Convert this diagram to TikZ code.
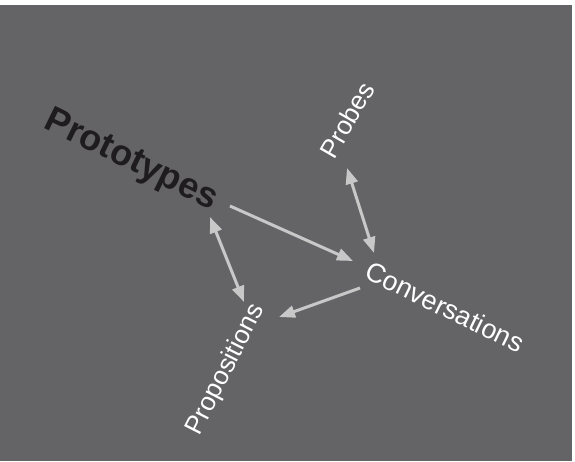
\documentclass[tikz,border=0pt]{standalone}
\usepackage{fontspec}
\setmainfont{Liberation Sans}
\usetikzlibrary{arrows.meta}
\definecolor{fondo}{RGB}{100,100,102}
\definecolor{flecha}{RGB}{200,200,200}
\definecolor{tinta}{RGB}{30,28,30}
\tikzset{>={Triangle[length=16pt,width=12pt]}, word/.style={text=white, font=\fontsize{26}{30}\selectfont, inner sep=0pt}, link/.style={flecha, line width=3pt}}

\begin{document}
\begin{tikzpicture}[x=1pt,y=-1pt]
	\useasboundingbox (0,0) rectangle (575,461);
	\fill[white] (0,0) rectangle (575,461);
	\fill[fondo] (0,5) rectangle (572,461);

	\node[word, text=tinta, font=\bfseries\fontsize{36}{40}\selectfont, rotate=-26] (proto) at (131,161) {Prototypes};
	\node[word, font=\fontsize{27}{30}\selectfont, rotate=-26] (conv) at (445,307) {Conversations};
	\node[word, rotate=60] (probes) at (347,120) {Probes};
	\node[word, rotate=63] (props) at (226,370) {Propositions};

	\coordinate (proto-a) at (230,206);
	\coordinate (proto-b) at (210,217);
	\coordinate (conv-a) at (353,261);
	\coordinate (conv-b) at (360,288);
	\coordinate (conv-c) at (374,253);
	\coordinate (probes-a) at (347,168);
	\coordinate (props-a) at (244,302);
	\coordinate (props-b) at (279,317);

	\draw [link, ->] (proto-a) -- (conv-a);
	\draw [link, ->] (conv-b) -- (props-b);
	\draw [link, <->] (proto-b) -- (props-a);
	\draw [link, <->] (probes-a) -- (conv-c);
\end{tikzpicture}
\end{document}
